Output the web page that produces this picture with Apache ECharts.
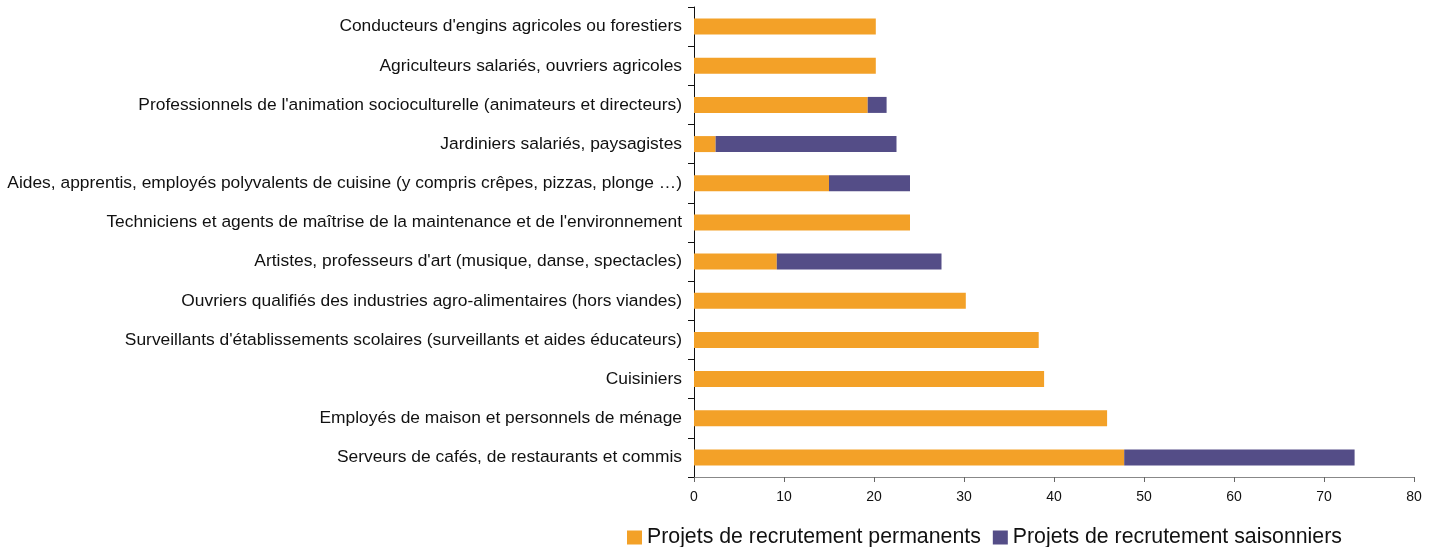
<!DOCTYPE html>
<html><head><meta charset="utf-8">
<script src="https://cdn.jsdelivr.net/npm/echarts@6/dist/echarts.min.js"></script>
<style>html,body{margin:0;padding:0;background:#fff}#c{width:1437px;height:547px}</style>
</head><body><div id="c"></div>
<script>
const categories = [
  "Serveurs de cafés, de restaurants et commis",
  "Employés de maison et personnels de ménage",
  "Cuisiniers",
  "Surveillants d'établissements scolaires (surveillants et aides éducateurs)",
  "Ouvriers qualifiés des industries agro-alimentaires (hors viandes)",
  "Artistes, professeurs d'art (musique, danse, spectacles)",
  "Techniciens et agents de maîtrise de la maintenance et de l'environnement",
  "Aides, apprentis, employés polyvalents de cuisine (y compris crêpes, pizzas, plonge …)",
  "Jardiniers salariés, paysagistes",
  "Professionnels de l'animation socioculturelle (animateurs et directeurs)",
  "Agriculteurs salariés, ouvriers agricoles",
  "Conducteurs d'engins agricoles ou forestiers"
];
const permanents = [47.8, 45.9, 38.9, 38.3, 30.2, 9.2, 24.0, 15.0, 2.4, 19.3, 20.2, 20.2];
const saisonniers = [25.6, 0, 0, 0, 0, 18.3, 0, 9.0, 20.1, 2.1, 0, 0];
const seriesNames = ["Projets de recrutement permanents", "Projets de recrutement saisonniers"];
const xTicks = {min: 0, max: 80, interval: 10};

const chart = echarts.init(document.getElementById('c'));
const font = "'Liberation Sans', Arial, sans-serif";
chart.setOption({
  animation: false,
  grid: {left: 694, right: 23, top: 7, bottom: 70, containLabel: false},
  legend: {
    left: 627, top: 527, padding: 0, itemWidth: 15, itemHeight: 14, itemGap: 12,
    icon: 'rect',
    textStyle: {fontFamily: font, fontSize: 21.3, color: '#111', padding: [0,0,0,0]},
    data: seriesNames
  },
  xAxis: {
    type: 'value', min: xTicks.min, max: xTicks.max, interval: xTicks.interval,
    axisLine: {show: true, lineStyle: {color: '#888', width: 1}},
    axisTick: {show: true, length: 5, lineStyle: {color: '#666'}},
    splitLine: {show: false},
    axisLabel: {fontFamily: font, fontSize: 14, color: '#111', margin: 13}
  },
  yAxis: {
    type: 'category', data: categories,
    axisLine: {lineStyle: {color: '#111', width: 1}},
    axisTick: {show: true, length: 6, alignWithLabel: false, lineStyle: {color: '#111'}},
    axisLabel: {fontFamily: font, fontSize: 17.4, color: '#111', margin: 12}
  },
  series: [
    {name: seriesNames[0], type: 'bar', stack: 'a', data: permanents, barWidth: 16, itemStyle: {color: '#F3A128'}},
    {name: seriesNames[1], type: 'bar', stack: 'a', data: saisonniers, barWidth: 16, itemStyle: {color: '#544D87'}}
  ]
});
</script></body></html>
